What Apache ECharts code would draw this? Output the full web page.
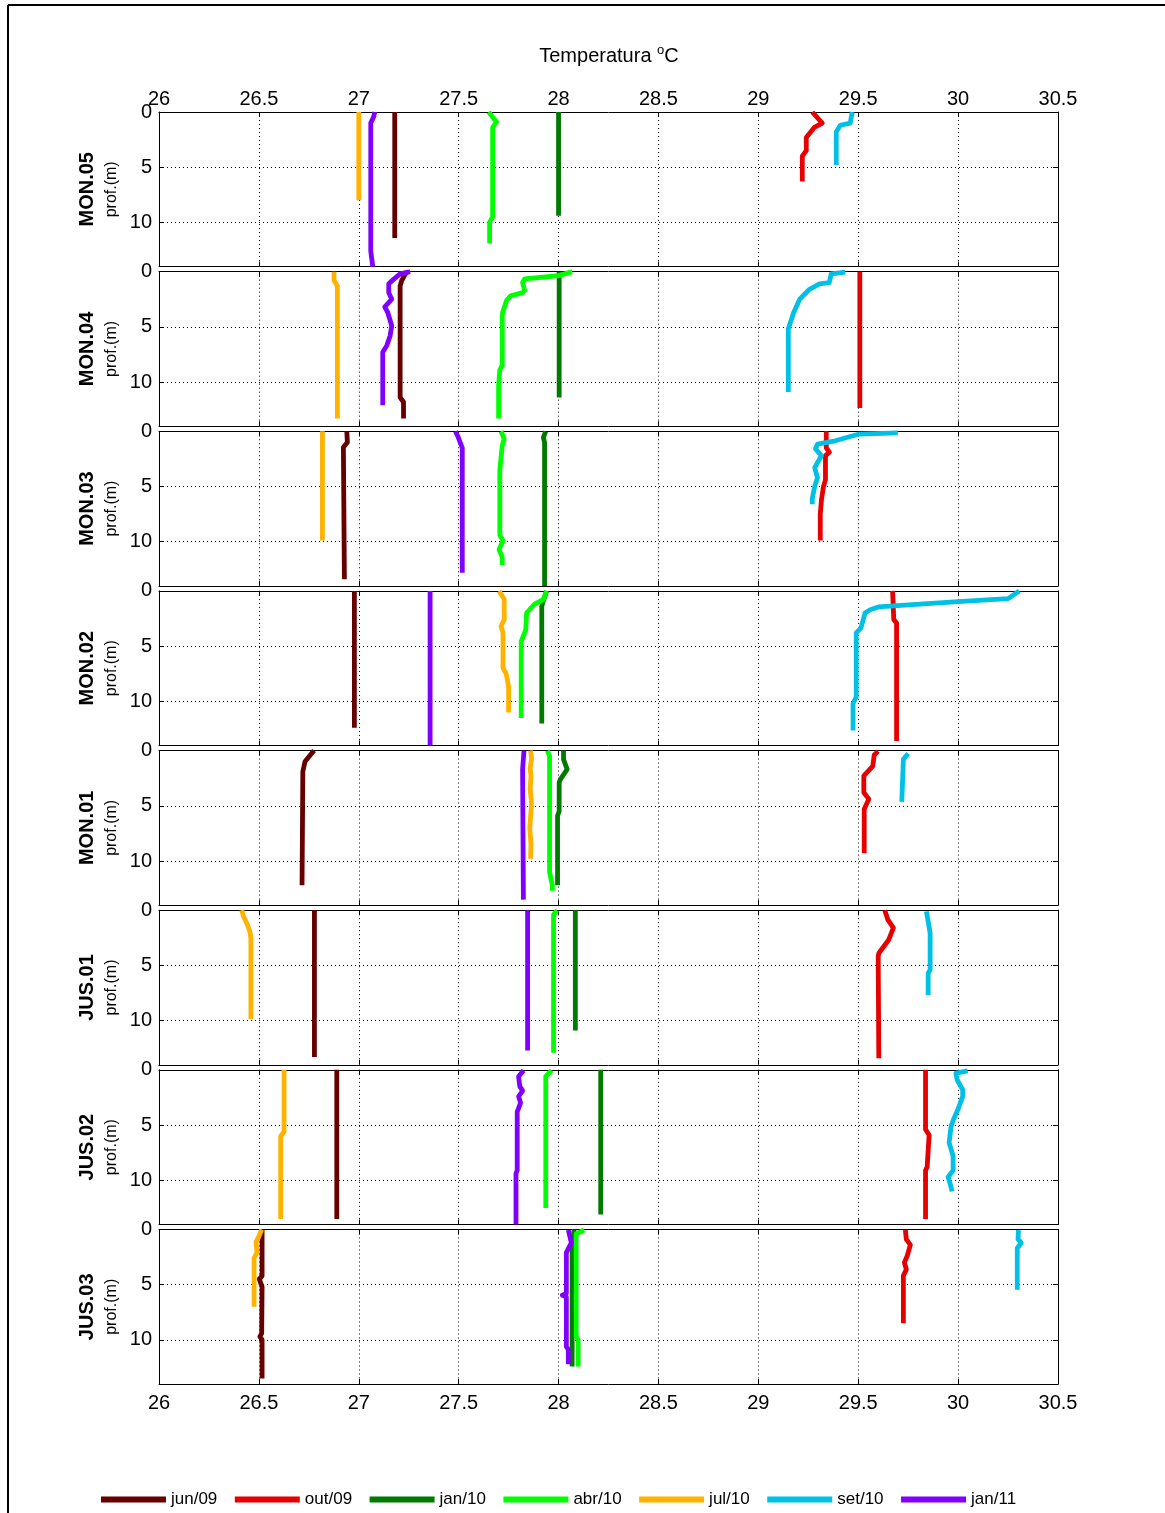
<!DOCTYPE html>
<html><head><meta charset="utf-8">
<script src="https://cdn.jsdelivr.net/npm/echarts@6/dist/echarts.min.js"></script>
<style>html,body{margin:0;padding:0;background:#fff}#c{width:1165px;height:1513px}</style>
</head><body><div id="c"></div>
<script>
// ---- DATA ----
const months = ['jun/09','out/09','jan/10','abr/10','jul/10','set/10','jan/11'];
const stations = ['MON.05','MON.04','MON.03','MON.02','MON.01','JUS.01','JUS.02','JUS.03'];
const xTickLabels = [26, 26.5, 27, 27.5, 28, 28.5, 29, 29.5, 30, 30.5];
const yTickLabels = [0, 5, 10];

// profiles: [temperature °C, depth m]; order = months
const MON05 = [
  [[27.18,0],[27.18,11.4]],
  [[29.27,0],[29.32,1.0],[29.28,1.4],[29.24,2.3],[29.24,3.5],[29.22,4.0],[29.22,6.3]],
  [[28.0,0],[28.0,9.4]],
  [[27.65,0],[27.69,0.9],[27.67,1.4],[27.67,9.5],[27.655,10.0],[27.655,11.9]],
  [[27.0,0],[27.0,8.0]],
  [[29.47,0],[29.46,1.0],[29.41,1.2],[29.39,1.8],[29.39,4.8]],
  [[27.08,0],[27.075,0.4],[27.06,1.0],[27.06,2.9],[27.07,3.0],[27.06,3.4],[27.06,12.6],[27.07,12.7],[27.07,14]]
];
const MON04 = [
  [[27.24,0],[27.215,0.8],[27.207,1.3],[27.207,11.4],[27.224,11.8],[27.224,13.3]],
  [[29.508,0],[29.508,12.35]],
  [[28.003,0],[28.003,11.4]],
  [[28.068,0],[28.0,0.36],[27.83,0.66],[27.82,1.0],[27.83,1.7],[27.82,1.9],[27.76,2.2],[27.74,2.6],[27.72,3.7],[27.718,4.0],[27.718,8.5],[27.706,8.9],[27.70,10.3],[27.70,13.3]],
  [[26.876,0],[26.876,0.8],[26.893,1.3],[26.893,13.3]],
  [[29.435,0.05],[29.365,0.2],[29.355,1.0],[29.306,1.1],[29.256,1.6],[29.207,2.5],[29.177,3.7],[29.15,5.2],[29.15,10.9]],
  [[27.257,0],[27.207,0.2],[27.174,0.7],[27.15,1.1],[27.15,1.9],[27.165,2.5],[27.13,3.2],[27.145,3.7],[27.165,4.9],[27.157,5.8],[27.14,6.7],[27.12,7.3],[27.12,12.1]]
];
const MON03 = [
  [[26.94,0],[26.943,1.0],[26.923,1.45],[26.928,13.4]],
  [[29.34,0],[29.34,1.5],[29.356,1.9],[29.336,2.2],[29.336,4.4],[29.326,5.0],[29.316,6.2],[29.31,7.5],[29.31,9.9]],
  [[27.936,0],[27.924,0.55],[27.93,1.0],[27.93,14]],
  [[27.712,0],[27.728,0.7],[27.718,1.3],[27.706,3.5],[27.706,9.4],[27.722,9.9],[27.702,10.7],[27.718,11.4],[27.718,12.1]],
  [[26.818,0],[26.818,9.9]],
  [[29.698,0.15],[29.505,0.25],[29.385,0.86],[29.296,1.17],[29.286,1.6],[29.316,2.2],[29.296,2.85],[29.282,3.3],[29.296,4.2],[29.282,5.0],[29.27,6.1],[29.27,6.6]],
  [[27.484,0],[27.498,0.55],[27.518,1.5],[27.518,12.8]]
];
const MON02 = [
  [[26.978,0],[26.978,12.4]],
  [[29.672,0],[29.678,2.6],[29.692,2.9],[29.692,13.6]],
  [[27.94,0],[27.924,0.9],[27.916,1.4],[27.916,12.0]],
  [[27.94,0],[27.924,0.76],[27.88,1.2],[27.84,2.0],[27.836,3.5],[27.813,4.6],[27.813,11.5]],
  [[27.702,0],[27.728,0.76],[27.728,2.6],[27.712,3.2],[27.722,3.8],[27.722,7.0],[27.738,7.5],[27.75,8.7],[27.75,11.0]],
  [[30.306,0],[30.25,0.7],[29.98,1.0],[29.6,1.45],[29.56,1.7],[29.534,2.0],[29.514,3.35],[29.49,3.8],[29.49,9.6],[29.474,10.2],[29.474,12.65]],
  [[27.357,0],[27.357,14]]
];
const MON01 = [
  [[26.776,0],[26.731,1.0],[26.72,1.9],[26.716,12.2]],
  [[29.599,0.05],[29.58,0.4],[29.573,1.4],[29.528,2.3],[29.528,3.8],[29.553,4.4],[29.53,5.3],[29.53,9.3]],
  [[28.025,0],[28.025,0.8],[28.043,1.7],[28.009,2.6],[28.003,2.9],[28.003,5.5],[27.995,5.9],[27.995,12.2]],
  [[27.944,0],[27.955,0.5],[27.955,11.0],[27.969,12.2],[27.969,12.7]],
  [[27.86,0],[27.865,0.7],[27.858,1.6],[27.862,2.3],[27.858,3.5],[27.865,4.8],[27.86,6.0],[27.856,7.0],[27.862,8.5],[27.86,9.8]],
  [[29.75,0.27],[29.726,0.8],[29.718,4.65]],
  [[27.827,0],[27.82,1.7],[27.824,13.5]]
];
const JUS01 = [
  [[26.778,0],[26.778,13.3]],
  [[29.633,0],[29.648,0.85],[29.676,1.6],[29.652,2.7],[29.603,3.9],[29.6,4.2],[29.603,13.4]],
  [[28.084,0],[28.084,10.9]],
  [[27.993,0],[27.975,0.4],[27.975,12.9]],
  [[26.414,0],[26.422,0.5],[26.442,1.3],[26.456,2.0],[26.46,2.6],[26.46,9.85]],
  [[29.841,0.1],[29.85,1.0],[29.86,2.1],[29.86,5.4],[29.85,5.7],[29.85,7.7]],
  [[27.845,0],[27.845,12.7]]
];
const JUS02 = [
  [[26.89,0],[26.89,13.5]],
  [[29.837,0],[29.837,5.4],[29.855,5.9],[29.845,8.8],[29.837,9.1],[29.837,13.5]],
  [[28.211,0],[28.211,13.1]],
  [[27.965,0.05],[27.936,0.6],[27.936,12.5]],
  [[26.626,0],[26.626,5.6],[26.609,6.0],[26.609,13.5]],
  [[30.048,0.1],[29.989,0.3],[29.995,0.9],[30.023,1.8],[30.023,2.4],[29.999,3.6],[29.979,4.4],[29.965,5.1],[29.955,6.6],[29.975,7.8],[29.975,9.1],[29.95,9.7],[29.96,10.3],[29.97,11.0]],
  [[27.825,0.05],[27.80,0.6],[27.806,1.5],[27.82,1.9],[27.80,2.4],[27.81,3.0],[27.793,3.8],[27.793,9.1],[27.787,9.4],[27.787,14]]
];
const JUS03 = [
  [[26.516,0],[26.516,4.2],[26.502,4.5],[26.516,5.2],[26.514,9.4],[26.505,9.7],[26.516,10.0],[26.516,13.5]],
  [[29.736,0.05],[29.741,0.9],[29.761,1.4],[29.745,2.4],[29.731,3.0],[29.741,3.6],[29.726,4.2],[29.726,8.5]],
  [[28.078,0],[28.068,1.5],[28.068,12.4]],
  [[28.128,0.05],[28.088,0.4],[28.088,9.7],[28.098,10.0],[28.098,12.4]],
  [[26.514,0],[26.497,0.75],[26.486,1.1],[26.49,2.1],[26.476,2.6],[26.476,7.0]],
  [[30.302,0.05],[30.3,0.9],[30.316,1.2],[30.296,1.7],[30.296,5.45]],
  [[28.049,0.05],[28.064,1.2],[28.039,2.1],[28.039,5.8],[28.019,5.95],[28.039,6.1],[28.039,10.6],[28.049,10.9],[28.049,12.2]]
];
const profiles = [MON05, MON04, MON03, MON02, MON01, JUS01, JUS02, JUS03];

// ---- STYLE / LAYOUT ----
const colors = ['#660000','#e60000','#007a00','#00ff00','#ffb300','#00c0e6','#8000ff'];
const FONT = '"Liberation Sans", Arial, sans-serif';
const GL = 159, GW = 899, TOP0 = 112, PITCH = 159.64, GH = 154.6;

const grids = [], xAxes = [], yAxes = [], series = [], graphics = [];
const dotted = {color:'#000', type:[1,3], width:1};
stations.forEach((st, s) => {
  const top = TOP0 + s * PITCH;
  grids.push({left: GL, top: top, width: GW, height: GH, containLabel: false});
  const xBase = {gridIndex: s, type: 'value', min: 26, max: 30.5, interval: 0.5,
    axisLine: {show: true, onZero: false, lineStyle: {color: '#000', width: 1}},
    axisTick: {show: true, inside: true, length: 5, lineStyle: {color: '#000'}}};
  xAxes.push(Object.assign({}, xBase, {position: 'bottom',
    axisLabel: {show: s === stations.length - 1, margin: 9, fontSize: 20, color: '#000', fontFamily: FONT,
      formatter: v => (xTickLabels.indexOf(v) >= 0 ? String(v) : '')},
    splitLine: {show: true, lineStyle: dotted}}));
  xAxes.push(Object.assign({}, xBase, {position: 'top',
    axisLabel: {show: s === 0, margin: 3, fontSize: 20, color: '#000', fontFamily: FONT,
      formatter: v => (xTickLabels.indexOf(v) >= 0 ? String(v) : '')},
    splitLine: {show: false}}));
  const yBase = {gridIndex: s, type: 'value', inverse: true, min: 0, max: 14, interval: 5,
    axisLine: {show: true, onZero: false, lineStyle: {color: '#000', width: 1}},
    axisTick: {show: true, inside: true, length: 5, lineStyle: {color: '#000'}}};
  yAxes.push(Object.assign({}, yBase, {position: 'left',
    axisLabel: {show: true, margin: 7, fontSize: 20, color: '#000', fontFamily: FONT,
      formatter: v => (yTickLabels.indexOf(v) >= 0 ? String(v) : '')},
    splitLine: {show: true, lineStyle: dotted}}));
  yAxes.push(Object.assign({}, yBase, {position: 'right', axisLabel: {show: false}, splitLine: {show: false}}));

  months.forEach((m, k) => {
    series.push({type: 'line', name: m, xAxisIndex: 2 * s, yAxisIndex: 2 * s,
      data: profiles[s][k], symbol: 'none', showSymbol: false, animation: false,
      lineStyle: {width: 4.8, color: colors[k], cap: 'butt', join: 'round'},
      itemStyle: {color: colors[k]}, z: 2 + k});
  });

  const cy = top + GH / 2;
  graphics.push({type: 'text', x: 87, y: cy, rotation: Math.PI / 2,
    style: {text: st, fontSize: 20, fontWeight: 'bold', fontFamily: FONT, fill: '#000',
      align: 'center', verticalAlign: 'middle', textAlign: 'center', textVerticalAlign: 'middle'}});
  graphics.push({type: 'text', x: 112, y: cy, rotation: Math.PI / 2,
    style: {text: 'prof.(m)', fontSize: 16, fontFamily: FONT, fill: '#000',
      align: 'center', verticalAlign: 'middle', textAlign: 'center', textVerticalAlign: 'middle'}});
});

graphics.push({type: 'line', shape: {x1: 8, y1: 5, x2: 1165, y2: 5}, style: {stroke: '#000', lineWidth: 2}});
graphics.push({type: 'line', shape: {x1: 8, y1: 5, x2: 8, y2: 1513}, style: {stroke: '#000', lineWidth: 2}});
graphics.push({type: 'text', x: 609, y: 56,
  style: {text: '{t|Temperatura }{s|o}{t|C}', fill: '#000',
    align: 'center', verticalAlign: 'middle', textAlign: 'center', textVerticalAlign: 'middle',
    rich: {t: {fontSize: 20, fontFamily: FONT, color: '#000', lineHeight: 24},
           s: {fontSize: 13, fontFamily: FONT, color: '#000', verticalAlign: 'top', lineHeight: 14}}}});

const chart = echarts.init(document.getElementById('c'), null, {renderer: 'canvas'});
chart.setOption({
  backgroundColor: '#fff',
  animation: false,
  grid: grids,
  xAxis: xAxes,
  yAxis: yAxes,
  series: series,
  legend: {data: months, left: 101, top: 1491, padding: 0, icon: 'rect', itemWidth: 65, itemHeight: 6, itemGap: 17.5,
    textStyle: {fontSize: 17, fontFamily: FONT, color: '#000'}},
  graphic: graphics
});
</script></body></html>
